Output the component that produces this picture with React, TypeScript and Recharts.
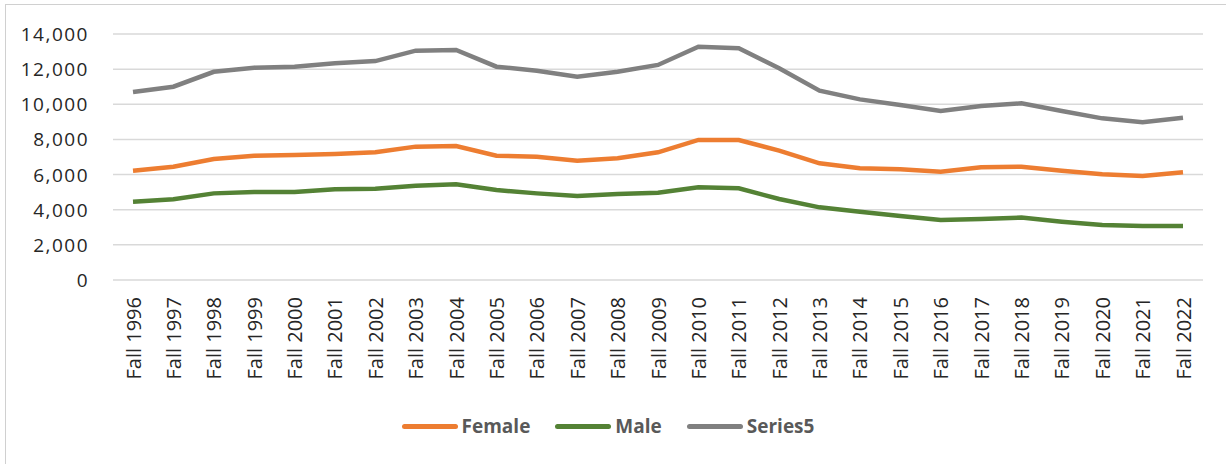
import { LineChart, Line, XAxis, YAxis, CartesianGrid, Legend } from "recharts";

const years = [
  "Fall 1996", "Fall 1997", "Fall 1998", "Fall 1999", "Fall 2000", "Fall 2001",
  "Fall 2002", "Fall 2003", "Fall 2004", "Fall 2005", "Fall 2006", "Fall 2007",
  "Fall 2008", "Fall 2009", "Fall 2010", "Fall 2011", "Fall 2012", "Fall 2013",
  "Fall 2014", "Fall 2015", "Fall 2016", "Fall 2017", "Fall 2018", "Fall 2019",
  "Fall 2020", "Fall 2021", "Fall 2022",
];

const female = [
  6220, 6450, 6890, 7075, 7110, 7170, 7265, 7590, 7625, 7075, 7020, 6790,
  6925, 7265, 7970, 7970, 7360, 6640, 6355, 6300, 6165, 6410, 6450, 6220,
  6015, 5920, 6130,
];

const male = [
  4460, 4590, 4930, 5010, 5010, 5160, 5200, 5370, 5445, 5120, 4930, 4780,
  4895, 4970, 5275, 5215, 4610, 4135, 3890, 3640, 3415, 3470, 3550, 3320,
  3130, 3075, 3075,
];

const series5 = [
  10700, 11000, 11850, 12085, 12140, 12330, 12460, 13050, 13090, 12140, 11910, 11570,
  11855, 12240, 13280, 13185, 12045, 10775, 10280, 9960, 9620, 9900, 10055, 9620,
  9200, 8975, 9240,
];

const yTicks = [0, 2000, 4000, 6000, 8000, 10000, 12000, 14000];

const chartData = years.map((year, i) => ({
  year,
  Female: female[i],
  Male: male[i],
  Series5: series5[i],
}));

const FONT = "'Open Sans', sans-serif";

const XTick = ({ x, y, payload }: any) => (
  <text
    x={x}
    y={y}
    transform={`rotate(-90, ${x}, ${y})`}
    textAnchor="end"
    dominantBaseline="central"
    fontFamily={FONT}
    fontSize={20}
    fill="#262626"
  >
    {payload.value}
  </text>
);

const YTick = ({ x, y, payload }: any) => (
  <text
    x={x}
    y={y}
    textAnchor="end"
    dominantBaseline="central"
    fontFamily={FONT}
    fontSize={19}
    letterSpacing={1.5}
    fill="#262626"
  >
    {payload.value.toLocaleString("en-US")}
  </text>
);

const legendItems = [
  { name: "Female", color: "#ED7D31" },
  { name: "Male", color: "#548235" },
  { name: "Series5", color: "#808080" },
];

const ChartLegend = () => (
  <div
    style={{
      display: "flex",
      justifyContent: "center",
      alignItems: "center",
      gap: 25,
      fontFamily: FONT,
      fontWeight: 700,
      fontSize: 19,
      color: "#595959",
      height: 64,
      paddingBottom: 12,
      boxSizing: "border-box",
    }}
  >
    {legendItems.map((item) => (
      <div key={item.name} style={{ display: "flex", alignItems: "center" }}>
        <span
          style={{
            display: "inline-block",
            width: 56,
            height: 5,
            borderRadius: 3,
            background: item.color,
            marginRight: 4,
          }}
        />
        {item.name}
      </div>
    ))}
  </div>
);

export default function App() {
  return (
    <div style={{ position: "relative", width: 1226, height: 464, overflow: "hidden", background: "#fff" }}>
      <style>{"body{margin:0}"}</style>
      <div
        style={{
          position: "absolute",
          left: 5,
          top: 4,
          width: 1240,
          height: 480,
          border: "1px solid #d0d0d0",
        }}
      />
      <LineChart
        width={1226}
        height={464}
        data={chartData}
        margin={{ top: 34, right: 23, left: 13, bottom: 0 }}
      >
        <CartesianGrid vertical={false} stroke="#D9D9D9" strokeWidth={1.5} />
        <XAxis
          dataKey="year"
          interval={0}
          axisLine={false}
          tickLine={false}
          tickSize={0}
          tickMargin={17}
          height={120}
          padding={{ left: 20, right: 20 }}
          tick={<XTick />}
        />
        <YAxis
          domain={[0, 14000]}
          ticks={yTicks}
          axisLine={false}
          tickLine={false}
          tickSize={0}
          tickMargin={24}
          width={100}
          tick={<YTick />}
        />
        <Legend verticalAlign="bottom" height={64} content={<ChartLegend />} />
        <Line dataKey="Female" stroke="#ED7D31" strokeWidth={4.5} dot={false} isAnimationActive={false} />
        <Line dataKey="Male" stroke="#548235" strokeWidth={4.5} dot={false} isAnimationActive={false} />
        <Line dataKey="Series5" stroke="#808080" strokeWidth={4.5} dot={false} isAnimationActive={false} />
      </LineChart>
    </div>
  );
}
